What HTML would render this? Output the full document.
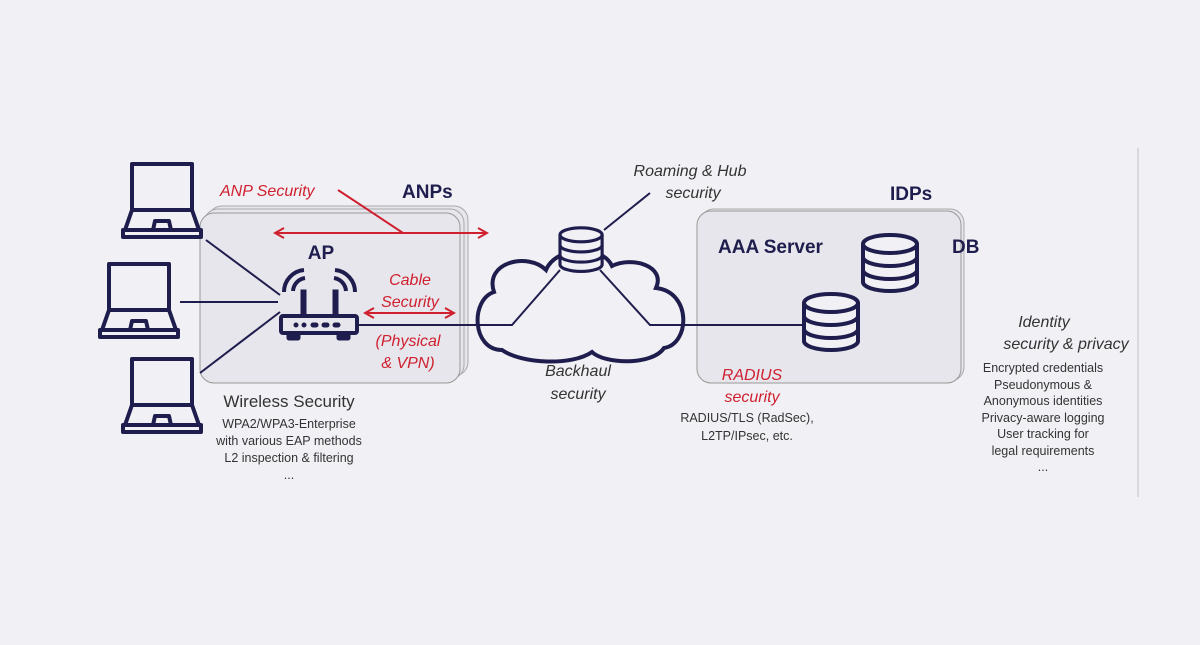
<!DOCTYPE html>
<html><head><meta charset="utf-8"><style>
html,body{margin:0;padding:0;background:#f1f1f5;}
svg{display:block;font-family:"Liberation Sans",sans-serif;}
</style></head><body>
<svg width="1200" height="645" viewBox="0 0 1200 645">
<rect width="1200" height="645" fill="#f1f1f5"/>
<defs>
<g id="lap" fill="none" stroke="#1f1d4d" stroke-width="4" stroke-linejoin="round">
<rect x="2" y="2" width="60" height="46"/>
<path d="M2,48 L-5,68 M62,48 L69,68"/>
<rect x="-7" y="68" width="78" height="7" />
<path d="M23,68 L25,59 L39,59 L41,68"/>
</g>
<marker id="ar" markerWidth="12" markerHeight="12" refX="10" refY="6" orient="auto-start-reverse" markerUnits="userSpaceOnUse"><path d="M1,1 L10,6 L1,11" fill="none" stroke="#d0202f" stroke-width="2"/></marker>
<g id="db" fill="#f1f1f5" stroke="#1f1d4d" stroke-width="4">
<path d="M0,10 L0,48 A27,9 0 0 0 54,48 L54,10"/>
<ellipse cx="27" cy="10" rx="27" ry="9"/>
<path d="M0,23 A27,9 0 0 0 54,23 M0,36 A27,9 0 0 0 54,36" fill="none"/>
</g>
</defs>
<line x1="1138" y1="148" x2="1138" y2="497" stroke="#d8d8de" stroke-width="2"/>
<rect x="208" y="206" width="260" height="170" rx="14" fill="#e6e6ec" stroke="#aaa" stroke-width="1"/>
<rect x="204" y="209" width="260" height="170" rx="14" fill="#e6e6ec" stroke="#aaa" stroke-width="1"/>
<rect x="200" y="213" width="260" height="170" rx="14" fill="#e6e6ec" stroke="#999" stroke-width="1"/>
<rect x="700" y="209" width="264" height="172" rx="14" fill="#e6e6ec" stroke="#aaa" stroke-width="1"/>
<rect x="697" y="211" width="264" height="172" rx="14" fill="#e6e6ec" stroke="#999" stroke-width="1"/>
<use href="#lap" x="130" y="162"/>
<use href="#lap" x="107" y="262"/>
<use href="#lap" x="130" y="357"/>
<g stroke="#1f1d4d" stroke-width="2" fill="none">
<line x1="206" y1="240" x2="280" y2="295"/>
<line x1="180" y1="302" x2="278" y2="302"/>
<line x1="200" y1="373" x2="280" y2="312"/>
<polyline points="358,325 512,325 560,270"/>
<polyline points="600,270 650,325 805,325"/>
<line x1="604" y1="230" x2="650" y2="193"/>
</g>
<g fill="#1f1d4d" stroke="#1f1d4d">
<rect x="281" y="316" width="76" height="17" rx="2" fill="none" stroke-width="4"/>
<circle cx="296" cy="325" r="2"/><circle cx="304" cy="325" r="2"/><rect x="311" y="323" width="7" height="4" rx="2"/><rect x="322" y="323" width="7" height="4" rx="2"/><rect x="333" y="323" width="7" height="4" rx="2"/>
<rect x="287" y="333" width="13" height="7" rx="2"/><rect x="337" y="333" width="13" height="7" rx="2"/>
<rect x="301" y="290" width="5" height="26"/><rect x="333" y="290" width="5" height="26"/>
<path d="M293,291 A14,14 0 0 1 305,278" fill="none" stroke-width="4"/>
<path d="M284,292 A22,22 0 0 1 304,270" fill="none" stroke-width="4"/>
<path d="M334,278 A14,14 0 0 1 346,291" fill="none" stroke-width="4"/>
<path d="M335,270 A22,22 0 0 1 355,292" fill="none" stroke-width="4"/>
</g>
<path d="M502,350 C472,350 470,300 494,292 C484,262 528,252 546,270 C556,246 602,244 612,266 C632,256 666,266 656,288 C692,292 690,344 664,348 C652,366 604,364 592,352 C572,366 522,364 502,350 Z" fill="none" stroke="#1f1d4d" stroke-width="4"/>
<g transform="translate(560,227) scale(0.78)"><use href="#db"/></g>
<use href="#db" x="804" y="293"/>
<use href="#db" x="863" y="234"/>
<g stroke="#d0202f" stroke-width="2" fill="none">
<line x1="275" y1="233" x2="487" y2="233" marker-start="url(#ar)" marker-end="url(#ar)"/>
<line x1="338" y1="190" x2="403" y2="233"/>
<line x1="365" y1="313" x2="454" y2="313" marker-start="url(#ar)" marker-end="url(#ar)"/>
</g>
<g font-style="italic" fill="#d0202f" font-size="16">
<text x="220" y="196">ANP Security</text>
<text x="410" y="285" text-anchor="middle">Cable</text>
<text x="410" y="307" text-anchor="middle">Security</text>
<text x="408" y="346" text-anchor="middle">(Physical</text>
<text x="408" y="368" text-anchor="middle">&amp; VPN)</text>
<text x="752" y="380" text-anchor="middle">RADIUS</text>
<text x="752" y="402" text-anchor="middle">security</text>
</g>
<g font-weight="bold" fill="#1f1d4d" font-size="19">
<text x="402" y="198">ANPs</text>
<text x="890" y="200">IDPs</text>
<text x="321" y="259" text-anchor="middle">AP</text>
<text x="718" y="253">AAA Server</text>
<text x="952" y="253">DB</text>
</g>
<g font-style="italic" fill="#333" font-size="16" text-anchor="middle">
<text x="690" y="176">Roaming &amp; Hub</text>
<text x="693" y="198">security</text>
<text x="578" y="376">Backhaul</text>
<text x="578" y="399">security</text>
<text x="1044" y="327">Identity</text>
<text x="1066" y="349">security &amp; privacy</text>
</g>
<text x="289" y="407" font-size="17" fill="#333" text-anchor="middle">Wireless Security</text>
<g font-size="12.5" fill="#333" text-anchor="middle">
<text x="289" y="428">WPA2/WPA3-Enterprise</text>
<text x="289" y="445">with various EAP methods</text>
<text x="289" y="462">L2 inspection &amp; filtering</text>
<text x="289" y="479">...</text>
<text x="747" y="422">RADIUS/TLS (RadSec),</text>
<text x="747" y="440">L2TP/IPsec, etc.</text>
<text x="1043" y="372">Encrypted credentials</text>
<text x="1043" y="389">Pseudonymous &amp;</text>
<text x="1043" y="405">Anonymous identities</text>
<text x="1043" y="422">Privacy-aware logging</text>
<text x="1043" y="438">User tracking for</text>
<text x="1043" y="455">legal requirements</text>
<text x="1043" y="471">...</text>
</g>
</svg>
</body></html>
